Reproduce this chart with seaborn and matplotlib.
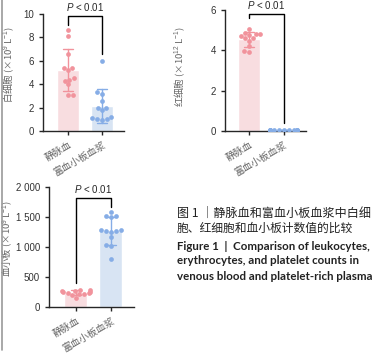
import matplotlib
matplotlib.use("Agg")
import matplotlib.pyplot as plt
import seaborn as sns
import pandas as pd
from matplotlib.lines import Line2D

# --- data ---
groups = ["静脉血", "富血小板血浆"]

wbc_vb = [8.6, 8.15, 6.6, 5.4, 5.4, 5.2, 4.5, 4.4, 4.3, 4.0, 3.05, 3.05]
wbc_prp = [5.95, 3.3, 3.2, 2.55, 2.0, 2.0, 1.8, 1.2, 1.1, 1.0, 0.95, 1.0]

rbc_vb = [5.05, 4.85, 4.8, 4.8, 4.75, 4.7, 4.6, 4.6, 4.45, 4.2, 3.95, 3.9]
rbc_prp = [0.05, 0.06, 0.04, 0.05, 0.07, 0.05, 0.04, 0.06, 0.05, 0.03, 0.06, 0.05]

plt_vb = [290, 280, 270, 260, 250, 245, 240, 230, 220, 210, 200, 150]
plt_prp = [1590, 1520, 1510, 1500, 1290, 1280, 1270, 1260, 1250, 1170, 1040, 1020, 800]

y_labels = ["白细胞 (×10$^{9}$ L$^{-1}$)",
            "红细胞 (×10$^{12}$ L$^{-1}$)",
            "血小板 (×10$^{9}$ L$^{-1}$)"]

bar_colors = ["#fdd8dc", "#d3e3f8"]
dot_colors = ["#f1939c", "#86ade6"]

sns.set_style("ticks")
plt.rcParams["font.family"] = ["Noto Sans CJK SC", "DejaVu Sans"]
plt.rcParams["mathtext.fontset"] = "custom"
plt.rcParams["mathtext.rm"] = "Liberation Sans"
plt.rcParams["mathtext.it"] = "Liberation Sans:italic"
plt.rcParams["axes.linewidth"] = 1.0
plt.rcParams["xtick.major.width"] = 1.0
plt.rcParams["ytick.major.width"] = 1.0
plt.rcParams["xtick.major.size"] = 3
plt.rcParams["ytick.major.size"] = 3


def make_df(a, b):
    return pd.DataFrame({"group": [groups[0]] * len(a) + [groups[1]] * len(b),
                         "value": a + b})


def panel(ax, df, ylim, yticks, yticklabels, xlim, ylabel, label_pos, bracket):
    for i, g in enumerate(groups):
        sub = df[df["group"] == g]
        sns.barplot(data=sub, x="group", y="value", order=groups, ax=ax,
                    color=bar_colors[i], width=0.66, errorbar="sd",
                    capsize=0.3, err_kws={"color": dot_colors[i], "linewidth": 1.0})
        sns.swarmplot(data=sub, x="group", y="value", order=groups, ax=ax,
                      color=dot_colors[i], size=3.4, linewidth=0)
    ax.set_ylim(*ylim)
    ax.set_xlim(*xlim)
    ax.set_yticks(yticks)
    ax.set_yticklabels(yticklabels, fontsize=7, color="#333333",
                       family="Liberation Sans")
    ax.set_xticks([0, 1])
    ax.set_xticklabels(groups, rotation=30, ha="right", rotation_mode="anchor",
                       fontsize=7, color="#666666")
    ax.set_xlabel("")
    ax.set_ylabel(ylabel, fontsize=6.8, color="#666666")
    ax.yaxis.set_label_coords(*label_pos)
    sns.despine(ax=ax)
    # significance bracket
    top, left_end, right_end = bracket
    ax.plot([0, 0, 1, 1], [left_end, top, top, right_end], color="black",
            linewidth=1.0, clip_on=False)
    ax.annotate("$\\it{P}$ < 0.01", xy=(0.5, top), xytext=(0, 2),
                textcoords="offset points", ha="center", va="bottom",
                fontsize=7, family="Liberation Sans")


fig = plt.figure(figsize=(3.85, 3.57), dpi=100)

ax1 = fig.add_axes([0.1117, 0.633, 0.2104, 0.3277])
panel(ax1, make_df(wbc_vb, wbc_prp), (0, 10), [0, 2, 4, 6, 8, 10],
      ["0", "2", "4", "6", "8", "10"], (-0.735, 1.647), y_labels[0],
      (-0.33, 0.57), (9.85, 9.1, 6.6))

ax2 = fig.add_axes([0.5844, 0.633, 0.2104, 0.3389])
panel(ax2, make_df(rbc_vb, rbc_prp), (0, 6), [0, 2, 4, 6],
      ["0", "2", "4", "6"], (-0.70, 1.65), y_labels[1],
      (-0.47, 0.53), (5.8, 5.6, 0.4))

ax3 = fig.add_axes([0.1273, 0.140, 0.2208, 0.3361])
panel(ax3, make_df(plt_vb, plt_prp), (0, 2000), [0, 500, 1000, 1500, 2000],
      ["0", "500", "1 000", "1 500", "2 000"], (-0.77, 1.66), y_labels[2],
      (-0.40, 0.575), (1820, 400, 1670))

# caption
H = 357.0
cap_x = 177 / 385
fig.text(cap_x, 1 - 213 / H, "图 1 ｜静脉血和富血小板血浆中白细", fontsize=8.7,
         va="center", ha="left", color="#222222")
fig.text(cap_x, 1 - 228 / H, "胞、红细胞和血小板计数值的比较", fontsize=8.5,
         va="center", ha="left", color="#222222")
en_lines = ["Figure 1  |  Comparison of leukocytes,",
            "erythrocytes, and platelet counts in",
            "venous blood and platelet-rich plasma"]
for k, line in enumerate(en_lines):
    fig.text(cap_x, 1 - (246 + 15 * k) / H, line, fontsize=8.3,
             fontweight="bold", family="Lato", va="center", ha="left",
             color="#222222")

# page border line on the left
fig.add_artist(Line2D([0.004, 0.004], [0.02, 1.0], color="#999999",
                      linewidth=1.2, transform=fig.transFigure))

fig.savefig("out.png", dpi=100)
